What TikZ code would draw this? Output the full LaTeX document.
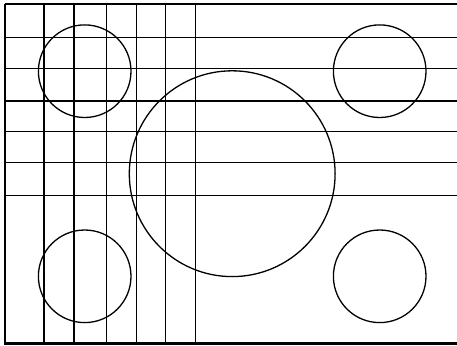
\documentclass[tikz,border=0pt]{standalone}
\usepackage{tikz}
\tikzset{
  gridline/.style={black,line width=1.3pt},
  baseline/.style={black,line width=2.6pt},
  ring/.style={black,line width=1.3pt},
}
\begin{document}
\begin{tikzpicture}[x=1pt,y=-1pt]
  \useasboundingbox (0,0) rectangle (457,345);
  % horizontal lines
  \foreach \y in {4,37.7,68.3,101,131.7,162.3,195.7}
    \draw[gridline] (5,\y) -- (457,\y);
  % vertical lines
  \foreach \x in {5,44,74,106.7,136.7,165.7,195.7}
    \draw[gridline] (\x,4) -- (\x,343.5);
  \draw[baseline] (4.4,343.3) -- (457,343.3);
  % circles
  \draw[ring] (84.7,71.2) circle (46.3);
  \draw[ring] (84.7,276.3) circle (46.3);
  \draw[ring] (379.7,71.2) circle (46.3);
  \draw[ring] (379.7,276.3) circle (46.3);
  \draw[ring] (232.2,173.7) circle (102.9);
\end{tikzpicture}
\end{document}
